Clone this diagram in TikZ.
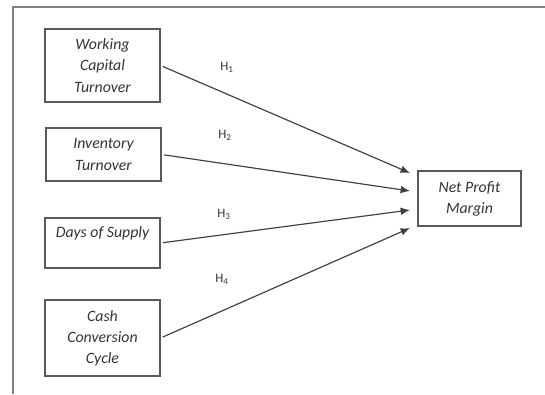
\documentclass[tikz,border=0pt]{standalone}
\usepackage{fontspec}
\setmainfont{Carlito}
\usetikzlibrary{arrows.meta}
\begin{document}
\begin{tikzpicture}[x=0.03cm,y=-0.03cm,
  varbox/.style={draw=black!65,line width=1pt,minimum width=3.45cm,align=center,
    font=\fontsize{13.5}{18}\selectfont\itshape,text=black!80,inner sep=2pt},
  hyp/.style={font=\fontsize{11}{12}\selectfont,text=black!80},
  link/.style={draw=black!75,line width=1pt,shorten <=2pt,-{Latex[length=8pt,width=6.5pt]}}]
\useasboundingbox (0,0) rectangle (545,394);
% frame
\draw[black!50,line width=1.2pt] (13,394) -- (13,7) -- (545,7);
% independent variables
\node[varbox,minimum height=2.19cm] (wct) at (102.5,65.5) {Working\\Capital\\Turnover};
\node[varbox,minimum height=1.59cm] (it) at (103.5,154.5) {Inventory\\Turnover};
\node[varbox,minimum height=1.5cm] (dos) at (102.5,243) {Days of Supply\\\mbox{}};
\node[varbox,minimum height=2.28cm] (ccc) at (102.5,338) {Cash\\Conversion\\Cycle};
% dependent variable
\node[varbox,minimum width=3.09cm,minimum height=1.65cm] (npm) at (469.5,198.5) {Net Profit\\Margin};
% arrow ends
\coordinate (e1) at (410,173);
\coordinate (e2) at (410,191);
\coordinate (e3) at (410,210);
\coordinate (e4) at (410,228);
\draw[link] (wct.east) -- (e1);
\draw[link] (it.east) -- (e2);
\draw[link] (dos.east) -- (e3);
\draw[link] (ccc.east) -- (e4);
% hypotheses
\node[hyp] (h1) at (227,67) {H\textsubscript{1}};
\node[hyp] (h2) at (225,135) {H\textsubscript{2}};
\node[hyp] (h3) at (224,214) {H\textsubscript{3}};
\node[hyp] (h4) at (222,279) {H\textsubscript{4}};
\end{tikzpicture}
\end{document}
